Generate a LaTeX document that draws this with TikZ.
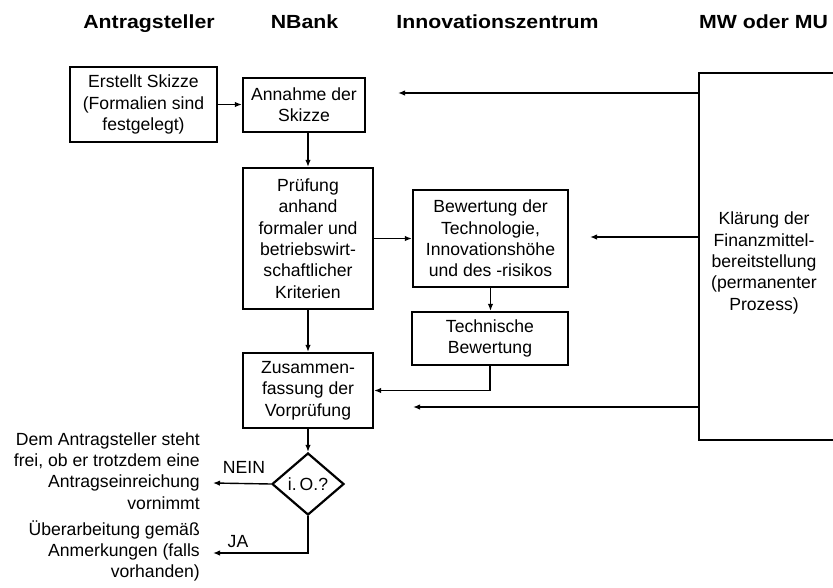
\documentclass[tikz,border=0pt]{standalone}
\usepackage{fontspec}
\setmainfont{Liberation Sans}
\newfontfamily\hdfont[FakeStretch=1.12]{Liberation Sans}
\usetikzlibrary{arrows.meta,shapes.geometric}
\begin{document}
\begin{tikzpicture}[x=1pt,y=-1pt,
  bodyfont/.style={font=\fontsize{17.6}{21.3}\selectfont},
  box/.style={draw, line width=2.2pt, align=center, inner sep=0pt, bodyfont},
  txt/.style={align=right, anchor=east, inner sep=0pt, bodyfont},
  lbl/.style={inner sep=0pt, bodyfont},
  con/.style={line width=1.4pt, -{Latex[length=7pt,width=5.5pt]}},
  hd/.style={font=\hdfont\bfseries\fontsize{19}{22}\selectfont, anchor=base, inner sep=0pt}]
\useasboundingbox (0,0) rectangle (833,587);

% headers
\node[hd] (h1) at (149,28.5) {Antragsteller};
\node[hd] (h2) at (304.5,28.5) {NBank};
\node[hd] (h3) at (497.5,28.5) {Innovationszentrum};
\node[hd] (h4) at (763.5,28.5) {MW oder MU};

% boxes
\node[box, minimum width=147pt, minimum height=75pt] (erst) at (143.5,104.5) {Erstellt Skizze\\(Formalien sind\\festgelegt)};
\node[box, minimum width=122pt, minimum height=54pt] (ann) at (304,105) {Annahme der\\Skizze};
\node[box, minimum width=130pt, minimum height=141pt] (pruef) at (308,238.5) {Prüfung\\anhand\\formaler und\\betriebswirt-\\schaftlicher\\Kriterien};
\node[box, minimum width=155pt, minimum height=97pt] (bew) at (490.5,238.5) {Bewertung der\\Technologie,\\Innovationshöhe\\und des -risikos};
\node[box, minimum width=156pt, minimum height=53pt] (tech) at (490,338.5) {Technische\\Bewertung};
\node[box, minimum width=130pt, minimum height=75pt] (zus) at (308,390.5) {Zusammen-\\fassung der\\Vorprüfung};
\node[box, minimum width=160pt, minimum height=367pt] (mw) at (779,256.5) {};
\node[lbl, align=center] (mwtext) at (764,263) {Klärung der\\Finanzmittel-\\bereitstellung\\(permanenter\\Prozess)};
\node[draw, line width=2.2pt, diamond, aspect=1.16, minimum width=72pt, minimum height=62pt, inner sep=0pt, bodyfont] (dia) at (308,484) {i.\,O.?};

% free ends
\coordinate (t1) at (398,93);
\coordinate (t2) at (590,237);
\coordinate (t3) at (413,407);
\coordinate (nein) at (213,483);
\coordinate (ja) at (213,553);

% connectors
\draw[con] (erst.east) -- (erst.east -| ann.west);
\draw[con] (pruef.north |- ann.south) -- (pruef.north);
\draw[con] (pruef.east) -- (pruef.east -| bew.west);
\draw[con] (bew.south) -- (bew.south |- tech.north);
\draw[con] (pruef.south) -- (zus.north);
\draw[con] (tech.south) |- (zus.east);
\draw[con] (zus.south) -- (dia.north);
\draw[con] (mw.west |- t1) -- (t1);
\draw[con] (mw.west |- t2) -- (t2);
\draw[con] (mw.west |- t3) -- (t3);
\draw[con] (dia.west) -- (nein);
\draw[con] (dia.south) |- (ja);

% labels
\node[lbl] (lnein) at (244,467) {NEIN};
\node[lbl] (lja) at (238,542) {JA};
\node[txt] (tnein) at (200,471) {Dem Antragsteller steht\\frei, ob er trotzdem eine\\Antragseinreichung\\vornimmt};
\node[txt] (tja) at (200,551) {Überarbeitung gemäß\\Anmerkungen (falls\\vorhanden)};
\end{tikzpicture}
\end{document}
